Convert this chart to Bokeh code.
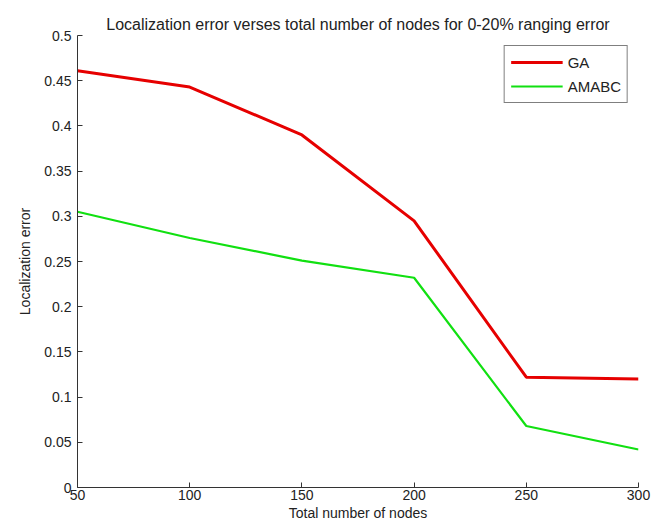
from bokeh.plotting import figure
from bokeh.models import FixedTicker, Range1d, Legend, LegendItem
from bokeh.embed import file_html
from bokeh.resources import INLINE

nodes = [50, 100, 150, 200, 250, 300]
ga = [0.461, 0.443, 0.390, 0.295, 0.122, 0.120]
amabc = [0.305, 0.276, 0.251, 0.232, 0.068, 0.042]

x_ticks = [50, 100, 150, 200, 250, 300]
y_ticks = [0, 0.05, 0.1, 0.15, 0.2, 0.25, 0.3, 0.35, 0.4, 0.45, 0.5]
y_tick_labels = ["0", "0.05", "0.1", "0.15", "0.2", "0.25", "0.3", "0.35", "0.4", "0.45", "0.5"]

title_text = "Localization error verses total number of nodes for 0-20% ranging error"
x_label = "Total number of nodes"
y_label = "Localization error"

FONT = "Liberation Sans"

p = figure(width=652, height=525, output_backend="svg", toolbar_location=None,
           x_range=Range1d(50, 300), y_range=Range1d(0, 0.5),
           min_border_left=77, min_border_right=14, min_border_top=35, min_border_bottom=38,
           background_fill_color="white", border_fill_color="white")
p.outline_line_color = None
p.grid.visible = False

p.title.text = title_text
p.title.text_font = FONT
p.title.text_font_size = "16px"
p.title.text_font_style = "normal"
p.title.text_color = "#222222"
p.title.align = "center"
p.title.standoff = 6

for ax in (p.xaxis[0], p.yaxis[0]):
    ax.major_tick_in = 5
    ax.major_tick_out = 0
    ax.minor_tick_in = 0
    ax.minor_tick_out = 0
    ax.axis_line_color = "#333333"
    ax.major_tick_line_color = "#333333"
    ax.major_label_text_font = FONT
    ax.major_label_text_font_size = "14px"
    ax.major_label_text_color = "#222222"
    ax.axis_label_text_font = FONT
    ax.axis_label_text_font_size = "14px"
    ax.axis_label_text_font_style = "normal"
    ax.axis_label_text_color = "#222222"

p.xaxis[0].ticker = FixedTicker(ticks=x_ticks)
p.yaxis[0].ticker = FixedTicker(ticks=y_ticks)
p.yaxis[0].major_label_overrides = {t: l for t, l in zip(y_ticks, y_tick_labels)}
p.xaxis[0].axis_label = x_label
p.yaxis[0].axis_label = y_label
p.xaxis[0].major_label_standoff = 2
p.xaxis[0].axis_label_standoff = 2
p.yaxis[0].major_label_standoff = 6
p.yaxis[0].axis_label_standoff = 8

r_ga = p.line(nodes, ga, line_color="#e60000", line_width=3)
r_am = p.line(nodes, amabc, line_color="#11e011", line_width=2.2)

legend = Legend(items=[LegendItem(label="GA", renderers=[r_ga]),
                       LegendItem(label="AMABC", renderers=[r_am])],
                location="top_right")
legend.border_line_color = "black"
legend.border_line_width = 1
legend.label_text_font = "Liberation Sans"
legend.label_text_font_size = "15px"
legend.label_text_color = "#222222"
legend.glyph_width = 52
legend.spacing = 4
legend.padding = 6
legend.margin = 10
legend.background_fill_alpha = 1
p.add_layout(legend)

open("out.html", "w").write(file_html(p, INLINE))
